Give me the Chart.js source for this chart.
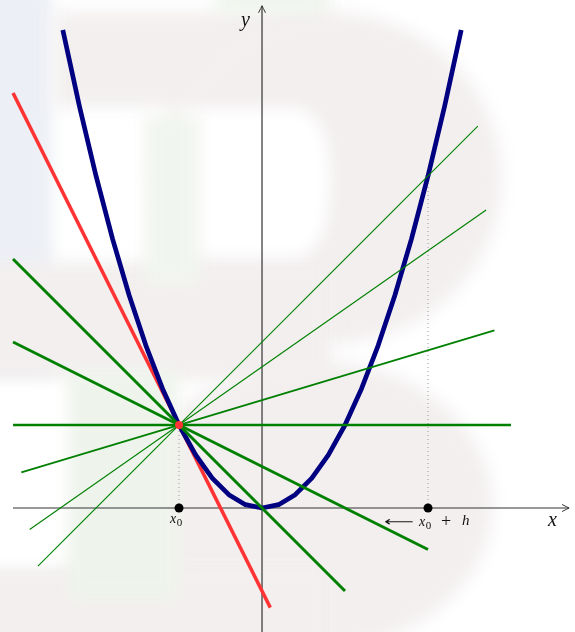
<!DOCTYPE html>
<html>
<head>
<meta charset="utf-8">
<script src="https://cdn.jsdelivr.net/npm/chart.js@4.4.1/dist/chart.umd.min.js"></script>
<style>
  html, body { margin: 0; padding: 0; background: #fff; }
  #caixa { width: 575px; height: 632px; }
</style>
</head>
<body>
<div id="caixa"><canvas id="derivada" width="575" height="632"></canvas></div>
<script>
// Parábola y = x², amostrada de 0.2 em 0.2
const parabolaX = [-2.4, -2.2, -2.0, -1.8, -1.6, -1.4, -1.2, -1.0, -0.8, -0.6, -0.4, -0.2, 0,
                   0.2, 0.4, 0.6, 0.8, 1.0, 1.2, 1.4, 1.6, 1.8, 2.0, 2.2, 2.4];
const parabolaY = [5.76, 4.84, 4.0, 3.24, 2.56, 1.96, 1.44, 1.0, 0.64, 0.36, 0.16, 0.04, 0,
                   0.04, 0.16, 0.36, 0.64, 1.0, 1.44, 1.96, 2.56, 3.24, 4.0, 4.84, 5.76];

// Reta tangente em x0 (vermelha)
const tangenteX = [-3, 0.1];
const tangenteY = [5, -1.2];

// Retas secantes por (x0, f(x0)): extremos de cada uma
const secanteX0 = [-2.7, -2.8, -2.9, -3, -3, -3];
const secanteY0 = [-0.7, -0.26, 0.43, 1, 2, 3];
const secanteX1 = [2.6, 2.7, 2.8, 3, 2, 1];
const secanteY1 = [4.6, 3.59, 2.14, 1, -0.5, -1];
const secanteEspessura = [1.1, 1.1, 1.8, 2.4, 3, 3];

// Pontos marcados
const x0 = -1, fx0 = 1;
const x0h = 2, fx0h = 4;

const VERDE = '#008000';

const datasets = [];

// ponto de tangência por cima de tudo
datasets.push({
    data: [{ x: x0, y: fx0 }],
    pointRadius: 4, pointBackgroundColor: '#ff3333', pointBorderWidth: 0,
    showLine: false, order: 0
});
datasets.push({
    data: [{ x: x0, y: 0 }, { x: x0h, y: 0 }],
    pointRadius: 4.5, pointBackgroundColor: '#000', pointBorderWidth: 0,
    showLine: false, order: 1
});

secanteX0.forEach((_, i) => {
    datasets.push({
        data: [{ x: secanteX0[i], y: secanteY0[i] }, { x: secanteX1[i], y: secanteY1[i] }],
        showLine: true, borderColor: VERDE, borderWidth: secanteEspessura[i],
        pointRadius: 0, order: 2
    });
});

datasets.push({
    data: parabolaX.map((x, i) => ({ x: x, y: parabolaY[i] })),
    showLine: true, borderColor: '#000080', borderWidth: 4.7,
    borderJoinStyle: 'round', pointRadius: 0, order: 3
});

datasets.push({
    data: [{ x: tangenteX[0], y: tangenteY[0] }, { x: tangenteX[1], y: tangenteY[1] }],
    showLine: true, borderColor: '#ff3333', borderWidth: 3.5,
    pointRadius: 0, order: 4
});

// linhas pontilhadas verticais
datasets.push({
    data: [{ x: x0, y: 0 }, { x: x0, y: fx0 }],
    showLine: true, borderColor: '#999', borderWidth: 1, borderDash: [1, 3],
    pointRadius: 0, order: 5
});
datasets.push({
    data: [{ x: x0h, y: 0 }, { x: x0h, y: fx0h }],
    showLine: true, borderColor: '#999', borderWidth: 1, borderDash: [1, 3],
    pointRadius: 0, order: 5
});

// marca d'água clara ao fundo
const fundo = {
    id: 'fundo',
    beforeDraw(chart) {
        const ctx = chart.ctx;
        ctx.save();
        ctx.fillStyle = '#fff';
        ctx.fillRect(0, 0, chart.width, chart.height);
        ctx.filter = 'blur(8px)';

        ctx.fillStyle = '#eceff5';
        ctx.fillRect(-20, -20, 72, 400);

        ctx.fillStyle = '#f3efef';
        ctx.fillRect(55, 12, 275, 95);
        ctx.beginPath();
        ctx.ellipse(330, 178, 172, 166, 0, 0, Math.PI * 2);
        ctx.fill();
        ctx.fillRect(-20, 262, 350, 118);
        ctx.beginPath();
        ctx.ellipse(315, 505, 178, 145, 0, 0, Math.PI * 2);
        ctx.fill();
        ctx.fillRect(-20, 565, 350, 90);

        // vazios internos
        ctx.fillStyle = '#fff';
        ctx.beginPath();
        ctx.moveTo(180, 108);
        ctx.lineTo(290, 108);
        ctx.quadraticCurveTo(330, 108, 330, 180);
        ctx.quadraticCurveTo(330, 258, 290, 258);
        ctx.lineTo(180, 258);
        ctx.closePath();
        ctx.fill();
        ctx.fillRect(-20, 385, 85, 175);

        ctx.fillStyle = '#f1f5ef';
        ctx.fillRect(145, 115, 55, 170);
        ctx.fillStyle = '#eef4ec';
        ctx.fillRect(68, 370, 110, 230);
        ctx.fillRect(215, -10, 115, 22);
        ctx.restore();
    }
};

// seta no estilo "->" do TikZ
function ponta(ctx, x, y, ang) {
    ctx.save();
    ctx.translate(x, y);
    ctx.rotate(ang);
    ctx.beginPath();
    ctx.moveTo(-7, -3.5);
    ctx.quadraticCurveTo(-2, -1, 0, 0);
    ctx.quadraticCurveTo(-2, 1, -7, 3.5);
    ctx.stroke();
    ctx.restore();
}

const eixos = {
    id: 'eixos',
    beforeDatasetsDraw(chart) {
        const ctx = chart.ctx;
        const sx = chart.scales.x, sy = chart.scales.y;
        const ox = sx.getPixelForValue(0), oy = sy.getPixelForValue(0);
        const xIni = sx.getPixelForValue(-3), xFim = sx.getPixelForValue(3.7);
        const yIni = sy.getPixelForValue(-1.6), yFim = sy.getPixelForValue(6.05);
        ctx.save();
        ctx.strokeStyle = '#333';
        ctx.lineWidth = 1.2;
        ctx.beginPath();
        ctx.moveTo(xIni, oy); ctx.lineTo(xFim, oy);
        ctx.moveTo(ox, yIni); ctx.lineTo(ox, yFim);
        ctx.stroke();
        ctx.lineWidth = 1;
        ponta(ctx, xFim, oy, 0);
        ponta(ctx, ox, yFim, -Math.PI / 2);
        ctx.restore();
    }
};

// x com índice 0
function xZero(ctx, x, y, tam) {
    ctx.font = 'italic ' + tam + 'px "Liberation Serif"';
    ctx.fillText('x', x, y);
    const w = ctx.measureText('x').width;
    ctx.font = Math.round(tam * 0.8) + 'px "Liberation Serif"';
    ctx.fillText('0', x + w + 0.5, y + tam * 0.3);
}

const rotulos = {
    id: 'rotulos',
    afterDraw(chart) {
        const ctx = chart.ctx;
        const sx = chart.scales.x, sy = chart.scales.y;
        const oy = sy.getPixelForValue(0);
        ctx.save();
        ctx.fillStyle = '#111';
        ctx.textBaseline = 'middle';
        ctx.textAlign = 'left';

        ctx.font = 'italic 20px "Liberation Serif"';
        ctx.fillText('y', 241, 21);
        ctx.fillText('x', 548, oy + 13);

        xZero(ctx, sx.getPixelForValue(x0) - 9, oy + 11, 14);

        const xb = sx.getPixelForValue(x0h);
        ctx.save();
        ctx.translate(xb - 44, oy + 15);
        ctx.scale(1.6, 1);
        ctx.font = '13px "DejaVu Sans"';
        ctx.fillText('\u27F5', 0, 0);
        ctx.restore();
        xZero(ctx, xb - 9, oy + 14, 14);
        ctx.font = '18px "Liberation Serif"';
        ctx.fillText('+', xb + 13, oy + 14);
        ctx.font = 'italic 15px "Liberation Serif"';
        ctx.fillText('h', xb + 34, oy + 13);
        ctx.restore();
    }
};

new Chart(document.getElementById('derivada').getContext('2d'), {
    type: 'scatter',
    data: { datasets: datasets },
    options: {
        responsive: false,
        animation: false,
        layout: { padding: 0, autoPadding: false },
        plugins: { legend: { display: false }, tooltip: { enabled: false } },
        scales: {
            x: { type: 'linear', min: -3.157, max: 3.771, display: false },
            y: { type: 'linear', min: -1.494, max: 6.12, display: false }
        }
    },
    plugins: [fundo, eixos, rotulos]
});
</script>
</body>
</html>
